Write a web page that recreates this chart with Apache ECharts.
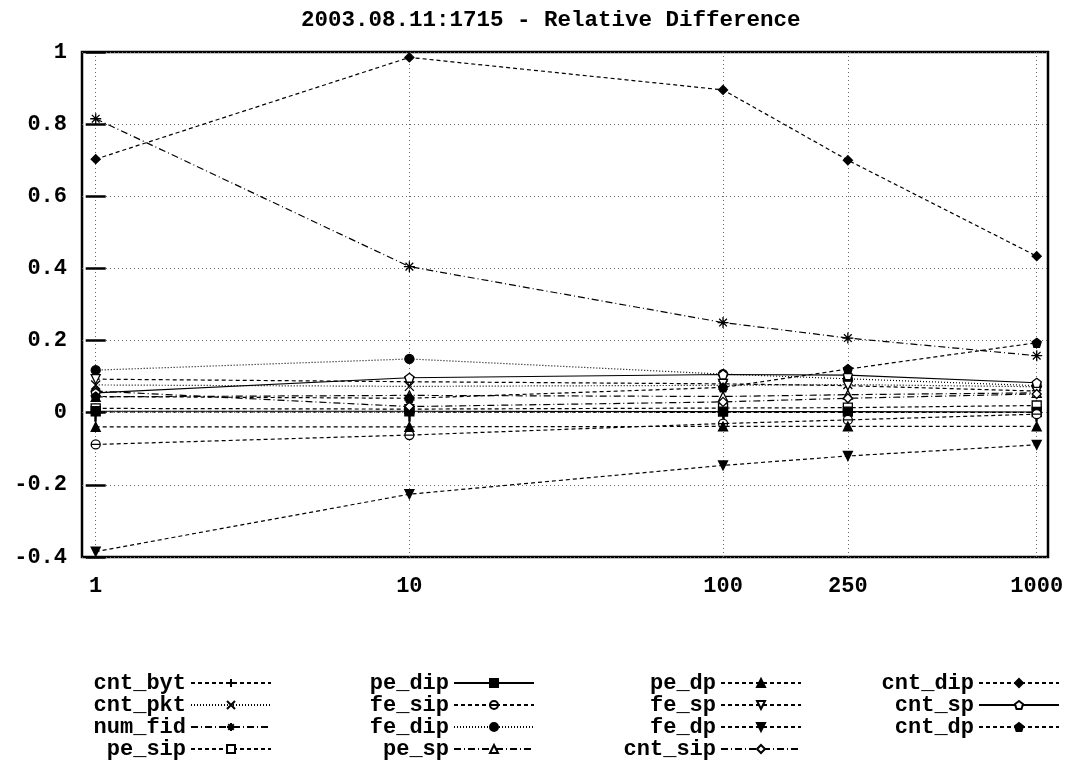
<!DOCTYPE html>
<html>
<head>
<meta charset="utf-8">
<script src="https://cdn.jsdelivr.net/npm/echarts@6/dist/echarts.min.js"></script>
<style>
  html, body { margin: 0; padding: 0; background: #fff; }
  #chart { width: 1079px; height: 761px; }
</style>
</head>
<body>
<div id="chart"></div>
<script>
// sample sizes on the x axis (log scale)
const sizes = [1, 10, 100, 250, 1000]
const yTicks = [-0.4, -0.2, 0, 0.2, 0.4, 0.6, 0.8, 1]

// relative difference per metric, one value per sample size
const cnt_byt = [0.002, 0.002, 0.001, 0.001, 0.001]
const cnt_pkt = [0.077, 0.073, 0.076, 0.078, 0.072]
const num_fid = [0.815, 0.405, 0.25, 0.207, 0.158]
const pe_sip = [0.012, 0.01, 0.013, 0.014, 0.02]
const pe_dip = [0.004, 0.004, 0.003, 0.003, 0.002]
const fe_sip = [-0.088, -0.062, -0.03, -0.02, -0.004]
const fe_dip = [0.118, 0.149, 0.107, 0.094, 0.075]
const pe_sp = [0.044, 0.048, 0.045, 0.05, 0.055]
const pe_dp = [-0.039, -0.039, -0.038, -0.038, -0.038]
const fe_sp = [0.093, 0.086, 0.08, 0.075, 0.06]
const fe_dp = [-0.385, -0.226, -0.146, -0.12, -0.089]
const cnt_sip = [0.06, 0.017, 0.03, 0.04, 0.052]
const cnt_dip = [0.703, 0.985, 0.895, 0.70, 0.434]
const cnt_sp = [0.055, 0.097, 0.106, 0.104, 0.083]
const cnt_dp = [0.045, 0.04, 0.07, 0.121, 0.194]

const FONT = 'Liberation Mono'
const DASHED = [4, 3]
const DOTTED = [1, 2]
const DASHDOT = [7, 3, 1, 3]

const PLUS = 'path://M-1,0L1,0M0,-1L0,1'
const CROSS = 'path://M-1,-1L1,1M-1,1L1,-1'
const STAR = 'path://M-1,0L1,0M0,-1L0,1M-0.7,-0.7L0.7,0.7M-0.7,0.7L0.7,-0.7'
const CIRCLE_MINUS = 'path://M-1,0A1,1,0,1,1,1,0A1,1,0,1,1,-1,0ZM-1,0L1,0'
const PENTAGON = 'path://M0,-1L0.951,-0.309L0.588,0.809L-0.588,0.809L-0.951,-0.309Z'

const metrics = [
  { name: 'cnt_byt', values: cnt_byt, dash: DASHED, symbol: PLUS, fill: '#000', size: 11 },
  { name: 'cnt_pkt', values: cnt_pkt, dash: DOTTED, symbol: CROSS, fill: '#000', size: 9 },
  { name: 'num_fid', values: num_fid, dash: DASHDOT, symbol: STAR, fill: '#000', size: 11 },
  { name: 'pe_sip', values: pe_sip, dash: DASHED, symbol: 'rect', fill: '#fff' },
  { name: 'pe_dip', values: pe_dip, dash: 'solid', symbol: 'rect', fill: '#000' },
  { name: 'fe_sip', values: fe_sip, dash: DASHED, symbol: CIRCLE_MINUS, fill: '#fff' },
  { name: 'fe_dip', values: fe_dip, dash: DOTTED, symbol: 'circle', fill: '#000' },
  { name: 'pe_sp', values: pe_sp, dash: DASHDOT, symbol: 'triangle', fill: '#fff' },
  { name: 'pe_dp', values: pe_dp, dash: DASHED, symbol: 'triangle', fill: '#000' },
  { name: 'fe_sp', values: fe_sp, dash: DASHED, symbol: 'triangle', fill: '#fff', rotate: 180 },
  { name: 'fe_dp', values: fe_dp, dash: DASHED, symbol: 'triangle', fill: '#000', rotate: 180 },
  { name: 'cnt_sip', values: cnt_sip, dash: DASHDOT, symbol: 'diamond', fill: '#fff' },
  { name: 'cnt_dip', values: cnt_dip, dash: DASHED, symbol: 'diamond', fill: '#000' },
  { name: 'cnt_sp', values: cnt_sp, dash: 'solid', symbol: PENTAGON, fill: '#fff' },
  { name: 'cnt_dp', values: cnt_dp, dash: DASHED, symbol: PENTAGON, fill: '#000' }
]

const logSizes = sizes.map(s => Math.log10(s))
const xMin = -0.0437
const xMax = 3.036

const series = metrics.map(m => ({
  name: m.name,
  type: 'line',
  data: m.values.map((v, i) => [logSizes[i], v]),
  symbol: m.symbol,
  symbolSize: m.size || 9,
  symbolRotate: m.rotate || 0,
  showAllSymbol: true,
  animation: false,
  lineStyle: { color: '#000', width: 1.2, type: m.dash },
  itemStyle: { color: m.fill, borderColor: '#000', borderWidth: 1.3 },
  emphasis: { disabled: true }
}))

const legendText = {
  fontFamily: FONT,
  fontWeight: 'bold',
  fontSize: 22,
  lineHeight: 21,
  color: '#000'
}

function legendColumn(names, right) {
  return {
    orient: 'vertical',
    align: 'right',
    right: right,
    top: 672,
    height: 140,
    padding: 0,
    itemGap: 0,
    itemWidth: 80,
    itemHeight: 10,
    selectedMode: false,
    textStyle: legendText,
    data: names
  }
}

const chart = echarts.init(document.getElementById('chart'), null, { renderer: 'canvas' })

chart.setOption({
  backgroundColor: '#fff',
  animation: false,
  title: {
    text: '2003.08.11:1715 - Relative Difference',
    left: 296,
    top: 4,
    textStyle: { fontFamily: FONT, fontWeight: 'bold', fontSize: 22.5, color: '#000' }
  },
  legend: [
    legendColumn(['cnt_byt', 'cnt_pkt', 'num_fid', 'pe_sip'], 807),
    legendColumn(['pe_dip', 'fe_sip', 'fe_dip', 'pe_sp'], 544),
    legendColumn(['pe_dp', 'fe_sp', 'fe_dp', 'cnt_sip'], 277),
    legendColumn(['cnt_dip', 'cnt_sp', 'cnt_dp'], 19)
  ],
  grid: {
    left: 82,
    right: 31,
    top: 52,
    bottom: 204,
    show: true,
    borderColor: '#000',
    borderWidth: 2.5,
    containLabel: false
  },
  xAxis: [
    {
      type: 'value',
      min: xMin,
      max: xMax,
      axisLine: { show: false },
      axisTick: {
        inside: true,
        length: 9,
        lineStyle: { color: '#000', width: 2.5 },
        customValues: logSizes
      },
      axisLabel: {
        margin: 18,
        fontFamily: FONT,
        fontWeight: 'bold',
        fontSize: 22,
        color: '#000',
        customValues: logSizes,
        formatter: v => String(Math.round(Math.pow(10, v)))
      },
      splitLine: {
        show: true,
        lineStyle: { color: '#666', width: 1, type: [1, 3] }
      }
    },
    {
      type: 'value',
      position: 'top',
      min: xMin,
      max: xMax,
      axisLine: { show: false },
      axisTick: {
        inside: true,
        length: 9,
        lineStyle: { color: '#000', width: 2.5 },
        customValues: logSizes
      },
      axisLabel: { show: false },
      splitLine: { show: false }
    }
  ],
  yAxis: [
    {
      type: 'value',
      min: yTicks[0],
      max: yTicks[yTicks.length - 1],
      interval: 0.2,
      axisLine: { show: false },
      axisTick: {
        show: true,
        inside: true,
        length: 10,
        lineStyle: { color: '#000', width: 2.5 }
      },
      axisLabel: {
        margin: 15,
        fontFamily: FONT,
        fontWeight: 'bold',
        fontSize: 22,
        color: '#000',
        formatter: v => String(Math.round(v * 10) / 10)
      },
      splitLine: {
        show: true,
        lineStyle: { color: '#666', width: 1, type: [1, 3] }
      }
    },
    {
      type: 'value',
      position: 'right',
      min: yTicks[0],
      max: yTicks[yTicks.length - 1],
      interval: 0.2,
      axisLine: { show: false },
      axisTick: {
        show: true,
        inside: true,
        length: 10,
        lineStyle: { color: '#000', width: 2.5 }
      },
      axisLabel: { show: false },
      splitLine: { show: false }
    }
  ],
  series: series
})

window.addEventListener('resize', () => chart.resize())
</script>
</body>
</html>
